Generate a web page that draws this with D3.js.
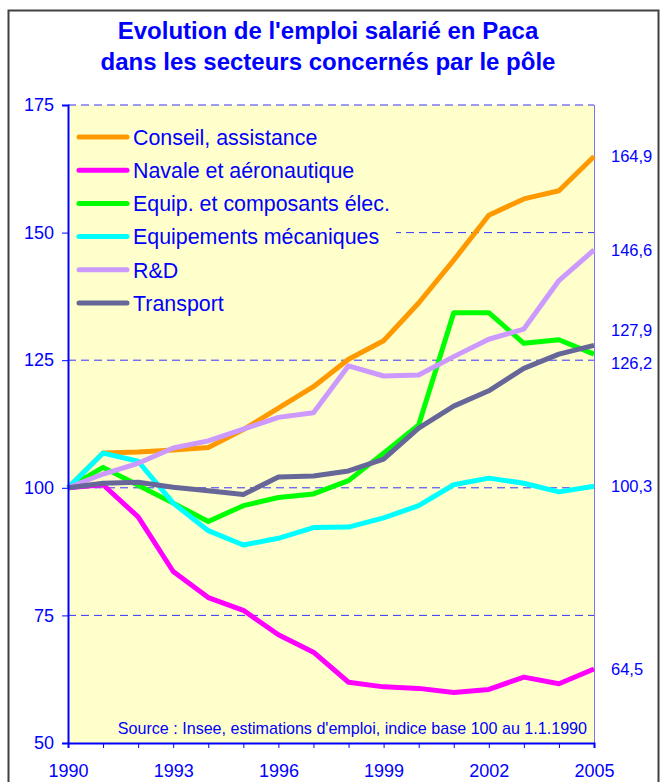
<!DOCTYPE html>
<html><head><meta charset="utf-8">
<script src="https://cdn.jsdelivr.net/npm/d3@7"></script>
<style>
html,body{margin:0;padding:0;background:#fff;}
svg{display:block;font-family:"Liberation Sans",Arial,sans-serif;}
</style></head>
<body><svg id="chart" width="661" height="782"></svg>
<script>
const years = [1990,1991,1992,1993,1994,1995,1996,1997,1998,1999,2000,2001,2002,2003,2004,2005];
const yearLabels = [1990,1993,1996,1999,2002,2005];
const yTicks = [50,75,100,125,150,175];
const gridValues = [75,100,125,150,175];

const seriesNames = ["Conseil, assistance","Navale et aéronautique","Equip. et composants élec.","Equipements mécaniques","R&D","Transport"];
const seriesColors = ["#FF9900","#FF00FF","#00FF00","#00FFFF","#CC99FF","#666699"];

const conseil   = [100,106.8,107.0,107.4,107.9,111.4,115.6,119.8,125.2,128.8,136.2,144.6,153.4,156.6,158.2,164.9];
const navale    = [100,100.6,94.3,83.6,78.5,76.0,71.2,67.8,61.9,61.0,60.7,59.9,60.5,62.9,61.6,64.5];
const equipElec = [100,104.0,100.5,97.0,93.4,96.5,98.1,98.8,101.4,106.8,112.3,134.3,134.3,128.3,129.0,126.2];
const equipMeca = [100,106.8,105.2,97.0,91.6,88.8,90.1,92.2,92.3,94.1,96.5,100.6,101.9,100.9,99.2,100.3];
const rd        = [100,102.7,104.8,107.8,109.2,111.5,113.8,114.7,123.9,121.9,122.1,125.7,129.1,131.1,140.6,146.6];
const transport = [100,100.9,101.1,100.1,99.4,98.7,102.1,102.3,103.3,105.6,111.7,116.0,119.0,123.4,126.2,127.9];

const endLabels = ["164,9","64,5","126,2","100,3","146,6","127,9"];
const endLabelShift = [0,0,9,0,0,-15];

const titleLines = ["Evolution de l'emploi salarié en Paca","dans les secteurs concernés par le pôle"];
const sourceText = "Source : Insee, estimations d'emploi, indice base 100 au 1.1.1990";

const seriesValues = [conseil,navale,equipElec,equipMeca,rd,transport];
const BLUE = "#0000FF";

const svg = d3.select("#chart");
const pLeft = 68, pRight = 594, pTop = 105, pBottom = 743;
const x = d3.scaleLinear().domain([1990,2005]).range([pLeft,pRight]);
const y = d3.scaleLinear().domain([50,175]).range([pBottom,pTop]);

// outer frame
svg.append("rect").attr("x",8.5).attr("y",10.5).attr("width",650).attr("height",790)
  .attr("fill","#fff").attr("stroke","#404040").attr("stroke-width",2);

// title
svg.append("g").selectAll("text").data(titleLines).join("text")
  .attr("x",328).attr("y",(d,i)=>39+i*31)
  .attr("text-anchor","middle").attr("fill",BLUE)
  .attr("font-size",24).attr("font-weight","bold").text(d=>d);

// plot background
svg.append("rect").attr("x",pLeft).attr("y",pTop).attr("width",pRight-pLeft).attr("height",pBottom-pTop)
  .attr("fill","#FFFFCC");

// gridlines
svg.append("g").selectAll("line").data(gridValues).join("line")
  .attr("x1",pLeft).attr("x2",pRight).attr("y1",d=>y(d)).attr("y2",d=>y(d))
  .attr("stroke","#3535FF").attr("stroke-width",1).attr("stroke-dasharray","8,5");

// right border
svg.append("line").attr("x1",pRight+0.5).attr("x2",pRight+0.5).attr("y1",pTop).attr("y2",pBottom)
  .attr("stroke","#7777EE").attr("stroke-width",1);

// legend background
svg.append("rect").attr("x",pLeft+1).attr("y",112).attr("width",327).attr("height",212)
  .attr("fill","#FFFFCC");

// lines
const line = d3.line().x((d,i)=>x(years[i])).y(d=>y(d));
svg.append("g").selectAll("path").data(seriesValues).join("path")
  .attr("d",d=>line(d)).attr("fill","none")
  .attr("stroke",(d,i)=>seriesColors[i]).attr("stroke-width",5)
  .attr("stroke-linejoin","round");

// legend
const lg = svg.append("g").selectAll("g").data(seriesNames).join("g")
  .attr("transform",(d,i)=>`translate(0,${137+i*33.2})`);
lg.append("line").attr("x1",79).attr("x2",127).attr("y1",0).attr("y2",0)
  .attr("stroke",(d,i)=>seriesColors[i]).attr("stroke-width",5).attr("stroke-linecap","round");
lg.append("text").attr("x",133).attr("y",0).attr("dy","0.36em")
  .attr("fill",BLUE).attr("font-size",21.4).text(d=>d);

// y axis
const yAxis = svg.append("g").attr("transform",`translate(${pLeft},0)`)
  .call(d3.axisLeft(y).tickValues(yTicks).tickSize(6).tickPadding(8).tickFormat(d3.format("d")));
yAxis.select(".domain").attr("stroke",BLUE).attr("stroke-width",2);
yAxis.selectAll(".tick line").attr("stroke",BLUE).attr("stroke-width",1);
yAxis.selectAll(".tick text").attr("fill",BLUE).attr("font-size",18)
  .attr("font-family","Liberation Sans, Arial, sans-serif");

// x axis
const xAxis = svg.append("g").attr("transform",`translate(0,${pBottom})`)
  .call(d3.axisBottom(x).tickValues(years).tickSize(5).tickPadding(16)
    .tickFormat(d=>yearLabels.includes(d)?String(d):""));
xAxis.select(".domain").attr("stroke",BLUE).attr("stroke-width",2);
xAxis.selectAll(".tick line").attr("stroke",BLUE).attr("stroke-width",1);
xAxis.selectAll(".tick text").attr("fill",BLUE).attr("font-size",18)
  .attr("font-family","Liberation Sans, Arial, sans-serif");

// end labels
svg.append("g").selectAll("text").data(seriesValues).join("text")
  .attr("x",611).attr("y",(d,i)=>y(d[d.length-1])+endLabelShift[i]).attr("dy","0.36em")
  .attr("fill",BLUE).attr("font-size",16.5).text((d,i)=>endLabels[i]);

// source
svg.append("text").attr("x",587).attr("y",734).attr("text-anchor","end")
  .attr("fill",BLUE).attr("font-size",16.1).text(sourceText);
</script>
</body></html>
